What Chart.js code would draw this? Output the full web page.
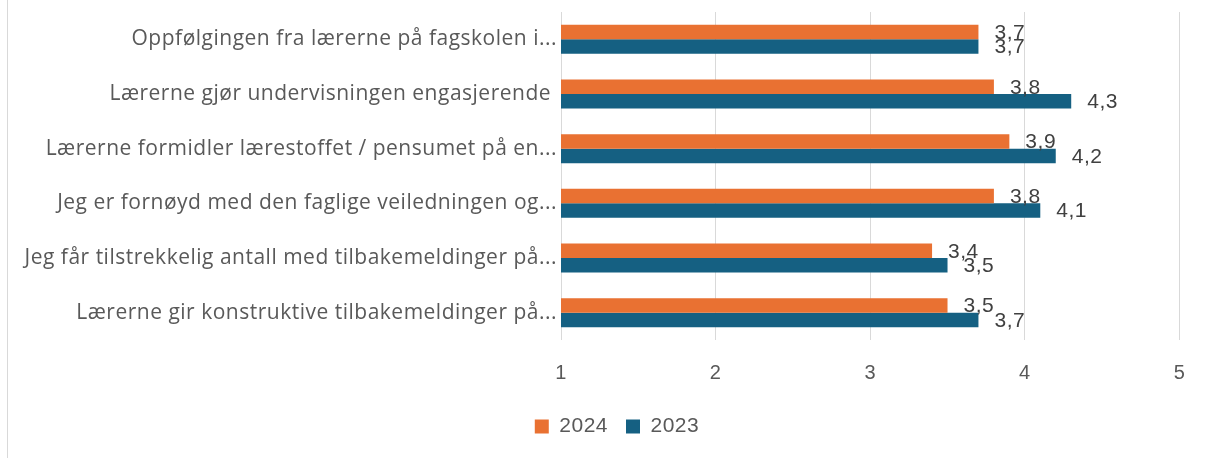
<!DOCTYPE html>
<html>
<head>
<meta charset="utf-8">
<script src="https://cdn.jsdelivr.net/npm/chart.js@4/dist/chart.umd.min.js"></script>
<style>
  html, body { margin: 0; padding: 0; background: #fff; }
  #wrap { position: relative; width: 1206px; height: 458px; }
  #frame { position: absolute; left: 7px; top: 0; width: 1px; height: 458px; background: #d9d9d9; }
</style>
</head>
<body>
<div id="wrap">
  <div id="frame"></div>
  <canvas id="myChart" width="1206" height="458"></canvas>
</div>
<script>
// data
let categories = [
    "Oppfølgingen fra lærerne på fagskolen i...",
    "Lærerne gjør undervisningen engasjerende ",
    "Lærerne formidler lærestoffet / pensumet på en...",
    "Jeg er fornøyd med den faglige veiledningen og...",
    "Jeg får tilstrekkelig antall med tilbakemeldinger på...",
    "Lærerne gir konstruktive tilbakemeldinger på..."
];
let values2024 = [3.7, 3.8, 3.9, 3.8, 3.4, 3.5];
let values2023 = [3.7, 4.3, 4.2, 4.1, 3.5, 3.7];
let seriesNames = ["2024", "2023"];
let xTicks = [1, 2, 3, 4, 5];

let fontFam = "'Liberation Sans', Arial, sans-serif";
let labelFam = "'Open Sans', 'Noto Sans', sans-serif";

// a little extra letter spacing, the original font runs wider
let spacing = {
    id: 'spacing',
    afterLayout(chart) {
        // legend sits a bit right of centre in the original
        chart.legend.left += 22;
        chart.legend.right += 22;
    },
    beforeDraw(chart) {
        chart.ctx.letterSpacing = '0.5px';
    }
};

// draws the value at the end of each bar, like Excel's "outside end"
let barLabels = {
    id: 'barLabels',
    afterDatasetsDraw(chart) {
        let ctx = chart.ctx;
        ctx.save();
        ctx.font = "21px 'Liberation Sans', Arial, sans-serif";
        ctx.fillStyle = "#404040";
        ctx.textAlign = "left";
        ctx.textBaseline = "middle";
        chart.data.datasets.forEach((ds, i) => {
            chart.getDatasetMeta(i).data.forEach((bar, j) => {
                let txt = ds.data[j].toFixed(1).replace('.', ',');
                ctx.fillText(txt, bar.x + 16, bar.y + 1);
            });
        });
        ctx.restore();
    }
};

let init = () => {
    var ctx = document.getElementById('myChart').getContext('2d');
    new Chart(ctx, {
        type: 'bar',
        data: {
            labels: categories,
            datasets: [{
                label: seriesNames[0],
                data: values2024,
                backgroundColor: '#E97132'
            }, {
                label: seriesNames[1],
                data: values2023,
                backgroundColor: '#156082'
            }]
        },
        options: {
            indexAxis: 'y',
            responsive: false,
            animation: false,
            barPercentage: 1,
            categoryPercentage: 0.53,
            layout: { padding: { top: 12, right: 20, left: 0, bottom: 11 } },
            scales: {
                x: {
                    min: 1,
                    max: 5,
                    afterBuildTicks: (axis) => { axis.ticks = xTicks.map(v => ({ value: v })); },
                    afterFit: (scale) => { scale.height = 58; },
                    grid: { color: '#d9d9d9', drawTicks: false },
                    border: { display: false },
                    ticks: { color: '#595959', font: { family: fontFam, size: 20 }, padding: 21 }
                },
                y: {
                    afterFit: (scale) => {
                        scale.width = 561;
                        scale.paddingTop = 0;
                        scale.paddingBottom = 0;
                    },
                    grid: { display: false },
                    border: { display: false },
                    ticks: { color: '#595959', font: { family: labelFam, size: 21 }, padding: -4, autoSkip: false }
                }
            },
            plugins: {
                legend: {
                    position: 'bottom',
                    labels: {
                        color: '#595959',
                        font: { family: fontFam, size: 21 },
                        boxWidth: 14,
                        boxHeight: 14,
                        padding: 18
                    }
                },
                tooltip: { enabled: false }
            }
        },
        plugins: [spacing, barLabels]
    });
}

init();
</script>
</body>
</html>
